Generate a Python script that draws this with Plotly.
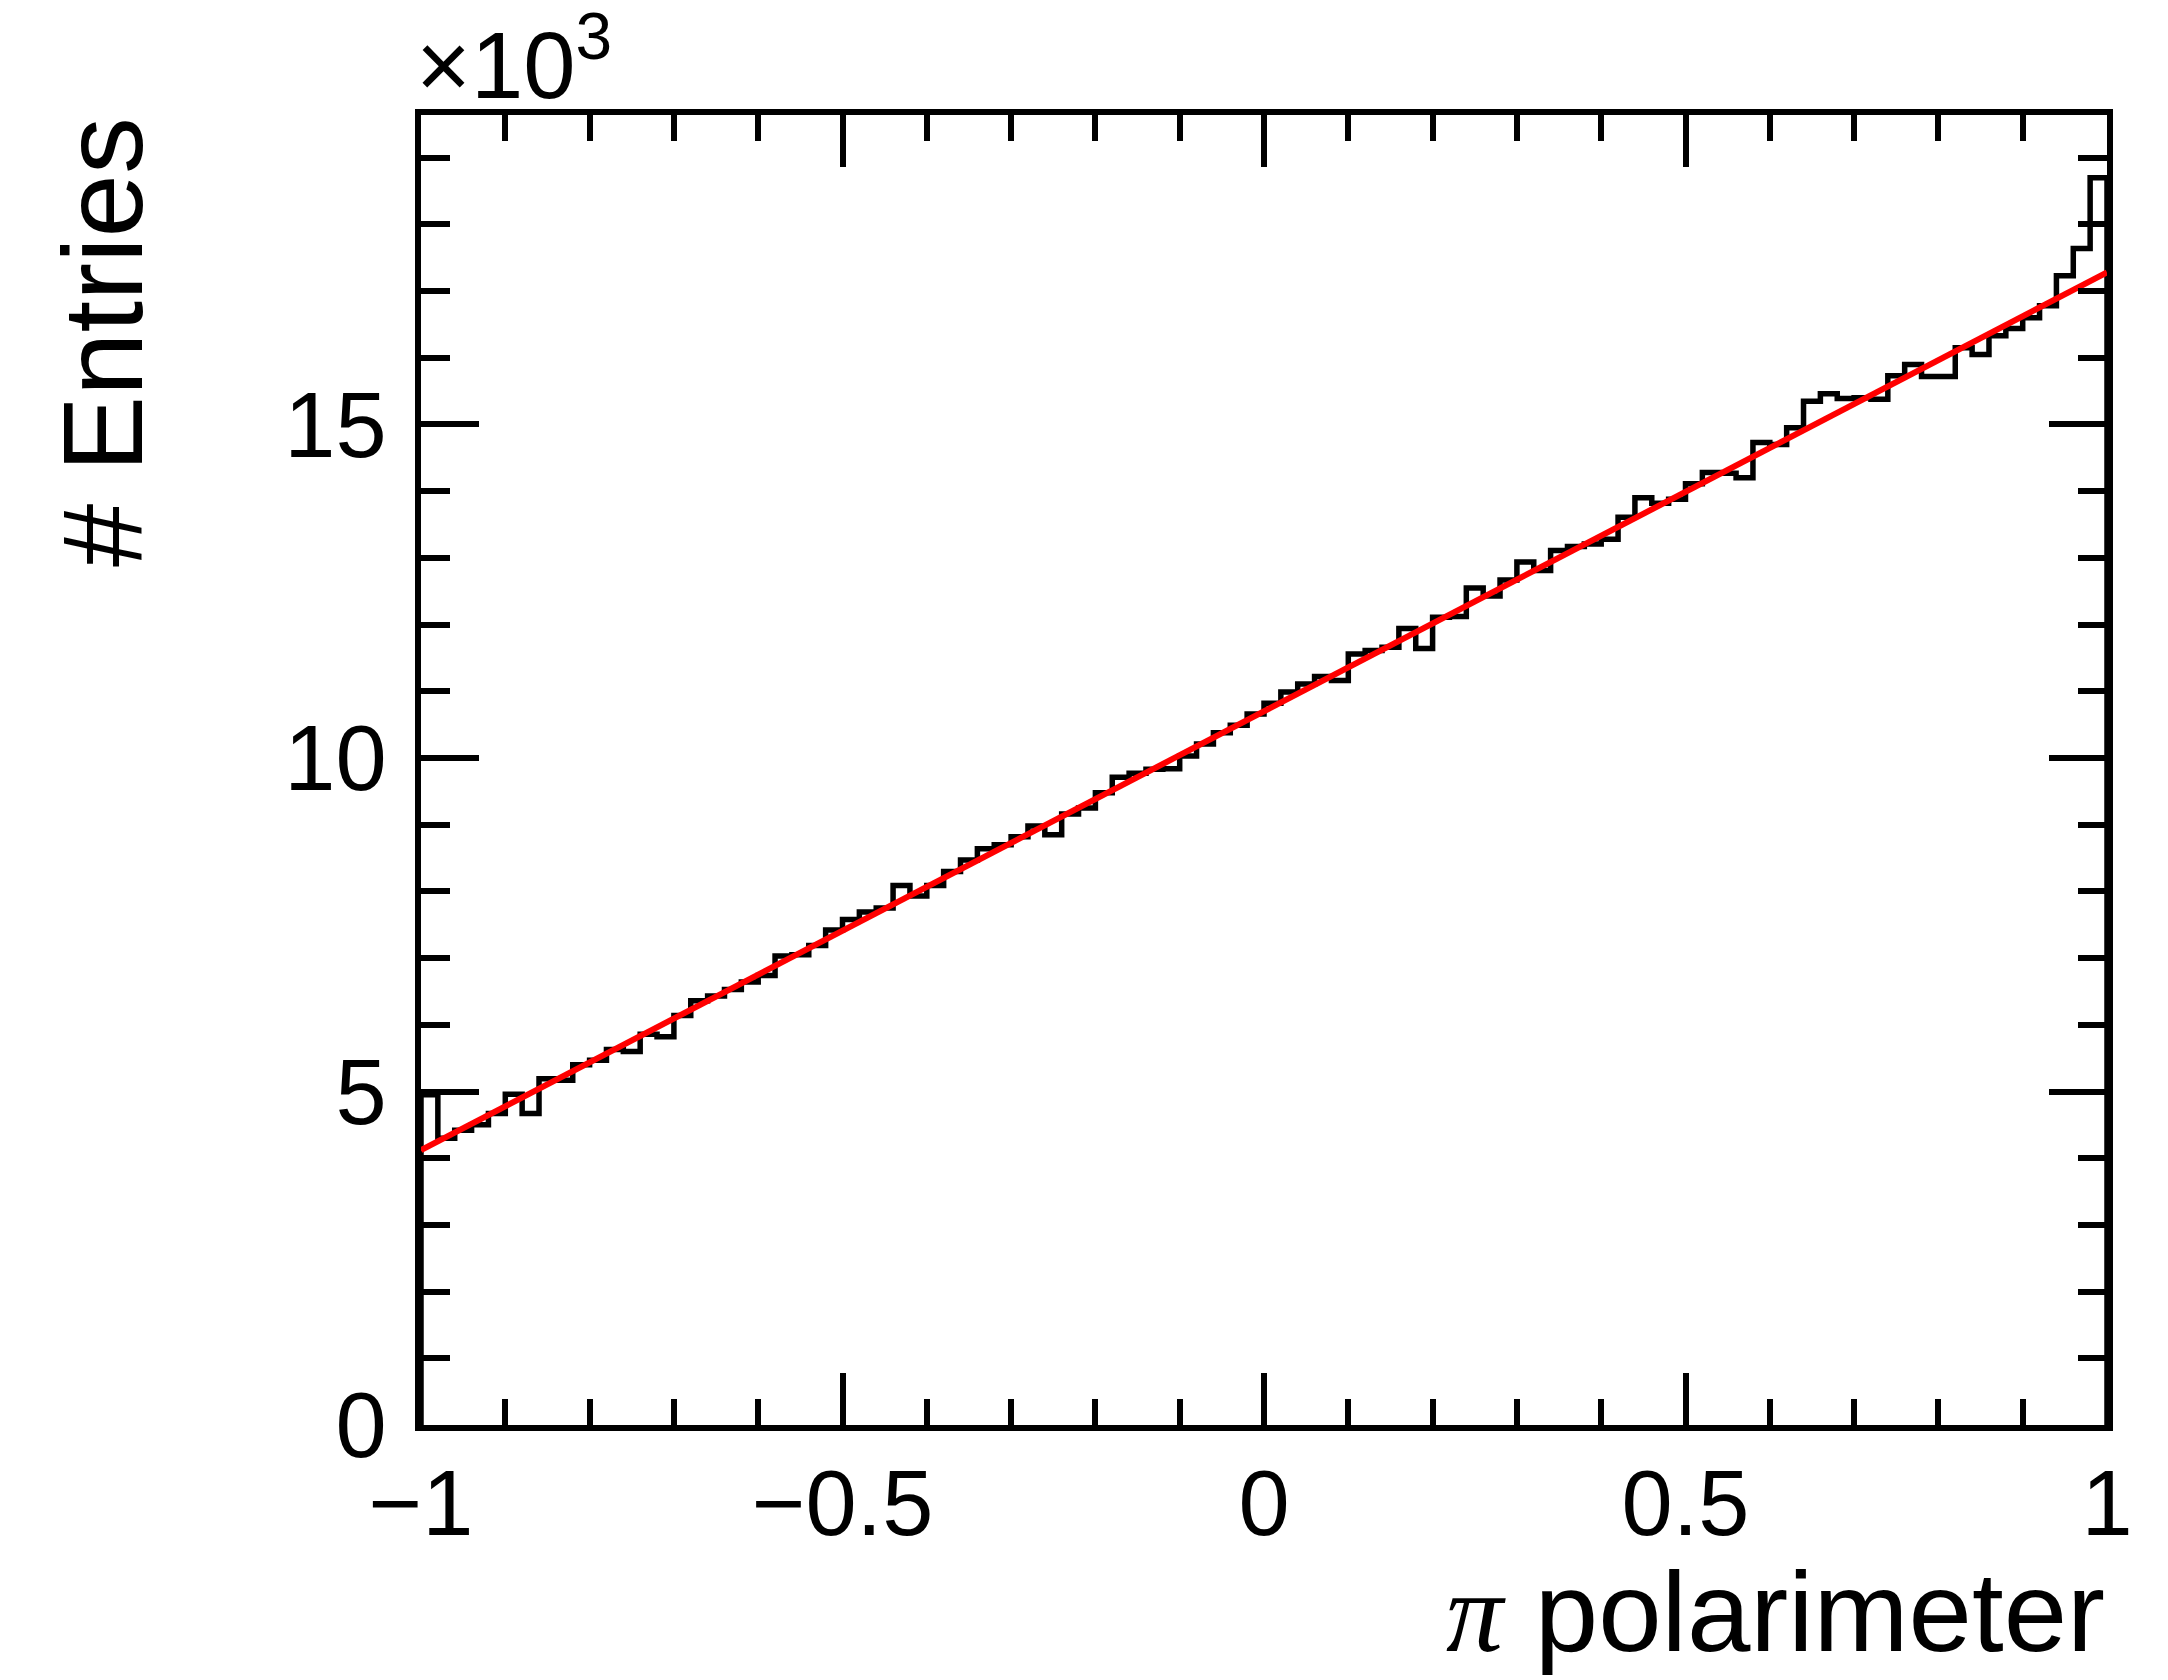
import numpy as np
import plotly.graph_objects as go

# ---------------- data ----------------
x_low, x_high, n_bins = -1.0, 1.0, 100
entries = [
    4950, 4300, 4420, 4500, 4670, 4960, 4670, 5190, 5170, 5400, 5470, 5630, 5600, 5860, 5820, 6140, 6360,
    6430, 6530, 6640, 6740, 7030, 7050, 7190, 7420, 7580, 7690, 7750, 8090, 7930, 8090, 8300, 8470, 8640,
    8700, 8820, 8980, 8850, 9160, 9250, 9480, 9710, 9770, 9830, 9840, 10030, 10210, 10380, 10490, 10660, 10820,
    10990, 11110, 11220, 11160, 11560, 11610, 11660, 11940, 11640, 12110, 12120, 12550, 12430, 12670, 12940, 12810, 13110,
    13170, 13210, 13280, 13610, 13900, 13820, 13880, 14110, 14280, 14270, 14200, 14730, 14700, 14950, 15350, 15460, 15390,
    15400, 15380, 15730, 15900, 15720, 15720, 16150, 16050, 16330, 16440, 16600, 16780, 17230, 17640, 18700,
]
# linear fit  f(x) = p0 + p1 * x  drawn over the full range
fit_p0 = 10700.0
fit_p1 = 6580.0
fit_x = [-1.0, 1.0]

x_tickvals = [-1, -0.5, 0, 0.5, 1]
x_ticktext = ["\u22121", "\u22120.5", "0", "0.5", "1"]
y_tickvals = [0, 5000, 10000, 15000]
y_ticktext = ["0", "5", "10", "15"]
y_max = 19640

# ---------------- build step outline ----------------
edges = np.linspace(x_low, x_high, n_bins + 1)
hx = [edges[0]] + list(edges[:-1]) + [edges[-1], edges[-1]]
hy = [0] + list(entries) + [entries[-1], 0]

fit_y = [fit_p0 + fit_p1 * v for v in fit_x]

W, H = 2168, 1680
L, R, T, B = 421, 61, 115, 255
pw, ph = W - L - R, H - T - B

def px_x(p):
    return (p - L) / pw

def px_y(p):
    return (H - B - p) / ph

FONT = "Liberation Sans, Arial, Helvetica, sans-serif"

fig = go.Figure()
fig.add_trace(go.Scatter(x=hx, y=hy, mode="lines", line=dict(color="black", width=5.5, shape="hv"),
                         showlegend=False, hoverinfo="skip"))
fig.add_trace(go.Scatter(x=fit_x, y=fit_y, mode="lines", line=dict(color="#ff0000", width=6),
                         showlegend=False, hoverinfo="skip"))

axis_common = dict(showline=True, linewidth=6, linecolor="black", mirror="allticks",
                   ticks="inside", tickwidth=6, tickcolor="black", showgrid=False, zeroline=False,
                   tickfont=dict(family=FONT, size=92, color="black"))

fig.update_xaxes(range=[x_low, x_high], tickvals=x_tickvals, ticktext=x_ticktext, ticklen=52,
                 minor=dict(ticks="inside", ticklen=26, tickwidth=6, tickcolor="black", dtick=0.1, tick0=0),
                 ticklabelstandoff=-6, **axis_common)
fig.update_yaxes(range=[0, y_max], tickvals=y_tickvals, ticktext=y_ticktext, ticklen=58,
                 minor=dict(ticks="inside", ticklen=29, tickwidth=6, tickcolor="black", dtick=1000, tick0=0),
                 ticklabelstandoff=10, **axis_common)

fig.add_annotation(text="<span style=\"font-family:'Liberation Serif'\"><i>\u03c0</i></span> polarimeter",
                   xref="paper", yref="paper", x=1.0, y=px_y(1612), xanchor="right", yanchor="middle",
                   showarrow=False, font=dict(family=FONT, size=114, color="black"))
fig.add_annotation(text="# Entries", textangle=-90,
                   xref="paper", yref="paper", x=px_x(103), y=px_y(342), xanchor="center", yanchor="middle",
                   showarrow=False, font=dict(family=FONT, size=114, color="black"))
fig.add_annotation(text="\u00d710<sup>3</sup>",
                   xref="paper", yref="paper", x=px_x(414), y=px_y(120), xanchor="left", yanchor="bottom",
                   showarrow=False, font=dict(family=FONT, size=94, color="black"))

fig.update_layout(width=W, height=H, autosize=False,
                  margin=dict(l=L, r=R, t=T, b=B, pad=0),
                  paper_bgcolor="white", plot_bgcolor="white")

fig.write_html("out.html")
